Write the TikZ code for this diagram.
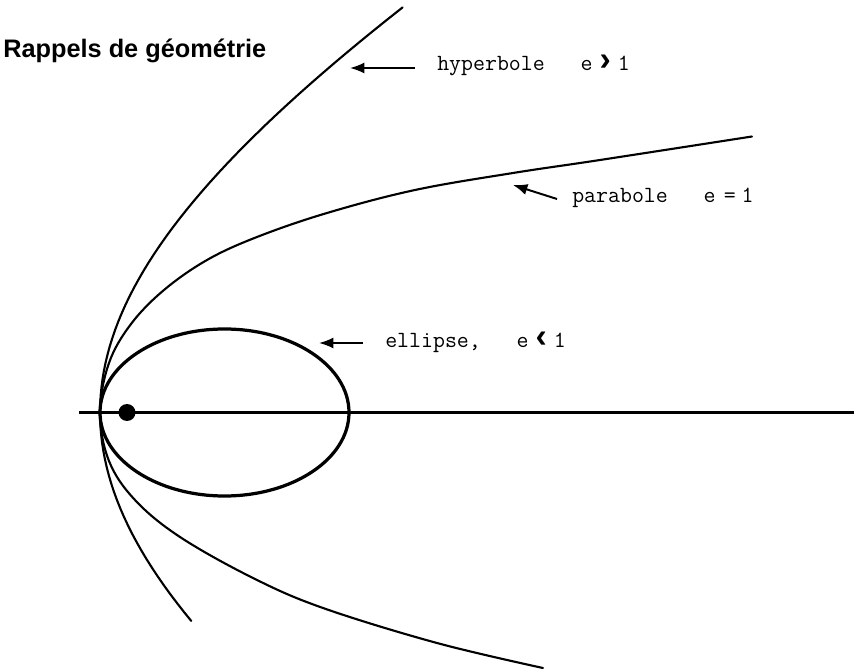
\documentclass[tikz,border=0pt]{standalone}
\usepackage{fontspec}
\newfontfamily\titlefont{Liberation Sans}
\usetikzlibrary{arrows.meta,calc}
\tikzset{
  conic line/.style={black, line width=1.5pt, line join=round, line cap=round},
  orbit line/.style={black, line width=2.3pt},
  axis line/.style={black, line width=1.8pt},
  label arrow/.style={
      line width=1.4pt,
        -{Latex[length=3.6mm,width=2.8mm]}
    },
  conic label/.style={
      anchor=base west,
      inner sep=0pt,
      font=\ttfamily\fontsize{16.5pt}{19pt}\selectfont
    }
}

\begin{document}
\begin{tikzpicture}[x=0.025cm, y=-0.025cm]

  \useasboundingbox (0,0) rectangle (856,669);

  % ------------------------------------------------------------------
  % Title.
  % ------------------------------------------------------------------
  \node[anchor=base west, inner sep=0pt,
    font=\titlefont\bfseries\fontsize{18pt}{21pt}\selectfont]
  (title) at (3,58) {Rappels de géométrie};

  % ------------------------------------------------------------------
  % Axis, focus and the three conics through the common vertex.
  % ------------------------------------------------------------------
  \draw[axis line] (79,412.5) -- (854,412.5);
  \coordinate (focus) at (127,412.5);
  \fill (focus) circle[radius=8.5];

  \draw[orbit line] (224.5,412.5) ellipse[x radius=124.5, y radius=83.5];

  \draw[conic line] plot[smooth, tension=0.6] coordinates {
      (543,668) (437,643) (323,608) (253,578) (180,537) (135,500)
      (109,461) (100,412.5) (109,363) (131,324) (164,290) (207,260)
      (257,237) (327,213) (415,190) (513,173) (600,160) (752,136.5)};

  \draw[conic line] plot[domain=-0.4986:0.8883, samples=70]
  ({100+718.9*(cosh(\x)-1)}, {412.5-401.3*sinh(\x)});

  % ------------------------------------------------------------------
  % Labels with their arrows.
  % ------------------------------------------------------------------
  \node[conic label] (hlabel) at (437,71)
  {hyperbole~~~e\hspace{0.3em}{\titlefont\bfseries\fontsize{24pt}{24pt}\selectfont ›}\hspace{0.3em}1};
  \coordinate (htip) at (350,68);
  \draw[label arrow] ($(hlabel.base west)+(-22,-3)$) -- (htip);

  \node[conic label] (plabel) at (572,203)
  {parabole~~~e\hspace{0.35em}=\hspace{0.25em}1};
  \coordinate (ptip) at (513,185);
  \draw[label arrow] ($(plabel.base west)+(-15,-4)$) -- (ptip);

  \node[conic label] (elabel) at (385,348)
  {ellipse,~~~e\hspace{0.3em}{\titlefont\bfseries\fontsize{24pt}{24pt}\selectfont ‹}\hspace{0.3em}1};
  \coordinate (etip) at (319,343);
  \draw[label arrow] ($(elabel.base west)+(-22,-5)$) -- (etip);

\end{tikzpicture}
\end{document}
